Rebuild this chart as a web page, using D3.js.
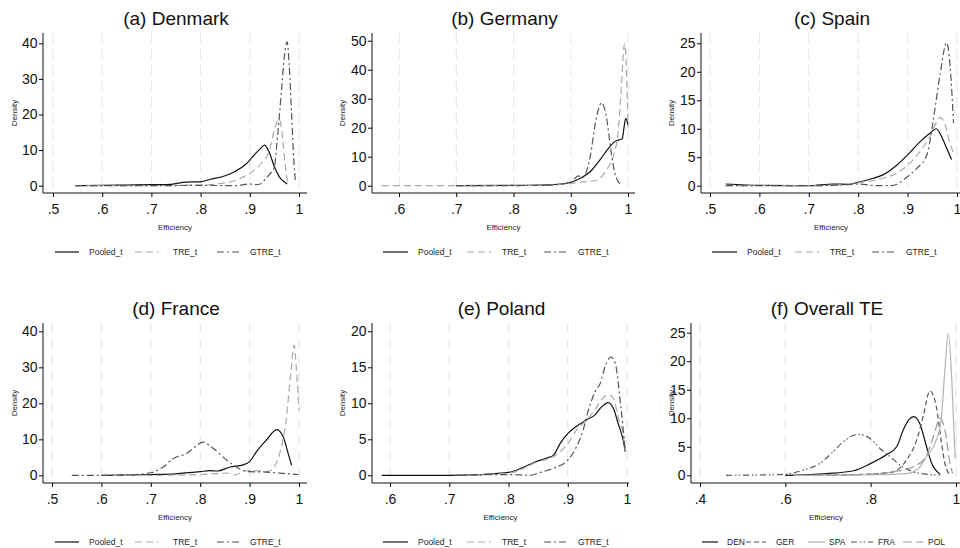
<!DOCTYPE html>
<html>
<head>
<meta charset="utf-8">
<script src="https://cdn.jsdelivr.net/npm/d3@7"></script>
<style>
  body { margin: 0; background: #fff; }
  svg { display: block; font-family: "Liberation Sans", Arial, Helvetica, sans-serif; }
</style>
</head>
<body>
<svg id="chart" width="960" height="548"></svg>
<script>
// kernel density estimates, [efficiency, density]
var denPooled = [[0.545,0],[0.6,0.1],[0.65,0.2],[0.7,0.3],[0.74,0.4],[0.77,1],[0.8,1.1],[0.82,1.8],[0.85,2.8],[0.87,4],[0.89,5.8],[0.9,7.2],[0.91,8.8],[0.92,10.2],[0.93,11.4],[0.94,9.2],[0.95,5.3],[0.96,2.5],[0.97,1.1],[0.976,0.5]];
var denTRE = [[0.545,0],[0.7,0],[0.8,0.2],[0.85,0.8],[0.88,2],[0.9,3.5],[0.92,5.8],[0.94,10],[0.95,15.6],[0.959,18.7],[0.965,15.5],[0.97,8.5],[0.975,2.5],[0.98,0.5]];
var denGTRE = [[0.545,0],[0.7,0],[0.8,0.1],[0.87,0],[0.9,0.5],[0.91,0.3],[0.92,0.4],[0.93,1.6],[0.94,3.2],[0.95,5.2],[0.955,11.8],[0.96,19.4],[0.965,27.8],[0.97,36],[0.976,40.4],[0.98,34],[0.985,20],[0.99,6],[0.993,0.8]];

var gerPooled = [[0.7,0],[0.8,0.1],[0.86,0.3],[0.9,1.2],[0.916,2.5],[0.934,4.8],[0.951,8.9],[0.968,13.4],[0.977,15.2],[0.984,15.8],[0.99,16.2],[0.993,20],[0.996,23.2],[1.0,21]];
var gerTRE = [[0.57,0],[0.7,0],[0.85,0.1],[0.9,0.8],[0.921,1.3],[0.944,1.7],[0.962,5.4],[0.974,10],[0.983,19],[0.988,33],[0.994,49],[0.998,36],[1.0,20]];
var gerGTRE = [[0.7,0],[0.85,0.1],[0.9,1],[0.913,3.4],[0.921,2.8],[0.934,10],[0.944,22.7],[0.954,28.6],[0.962,24],[0.971,11],[0.977,4.3],[0.983,1.4],[0.989,0.3]];

var spaPooled = [[0.532,0.3],[0.6,0.05],[0.7,0],[0.75,0.3],[0.78,0.25],[0.8,0.6],[0.83,1.3],[0.85,1.9],[0.878,3.6],[0.9,5.4],[0.925,7.7],[0.945,9.2],[0.958,10],[0.969,8.6],[0.979,6.6],[0.989,4.6]];
var spaTRE = [[0.532,0],[0.6,0],[0.7,0],[0.78,0.2],[0.8,0.5],[0.85,1.3],[0.878,2.2],[0.9,3.6],[0.925,6],[0.945,8.6],[0.959,11.2],[0.966,12],[0.975,10.9],[0.986,7.4],[0.993,5.7]];
var spaGTRE = [[0.532,0],[0.7,0],[0.78,0.2],[0.8,0.3],[0.837,0],[0.868,0],[0.9,1.6],[0.918,3],[0.939,5.4],[0.949,9.8],[0.955,13.3],[0.966,19.7],[0.979,25.1],[0.986,21],[0.993,11]];

var fraPooled = [[0.6,0],[0.65,0.05],[0.7,0.2],[0.75,0.4],[0.8,1.0],[0.82,1.3],[0.835,1.2],[0.86,2.3],[0.887,2.9],[0.9,3.8],[0.914,6.6],[0.934,9.8],[0.955,12.7],[0.968,10.7],[0.978,6.1],[0.985,2.8]];
var fraTRE = [[0.6,0],[0.7,0],[0.8,0.2],[0.854,0.6],[0.87,0.1],[0.89,1.2],[0.914,1.3],[0.935,1],[0.948,2],[0.961,6.1],[0.974,15.4],[0.984,29.3],[0.99,36.2],[0.995,29],[1.0,18]];
var fraGTRE = [[0.54,0],[0.6,0],[0.65,0.1],[0.7,0.7],[0.726,2.4],[0.746,4.7],[0.773,6.1],[0.786,7.5],[0.806,9.2],[0.826,7.5],[0.854,4.2],[0.881,1.7],[0.9,1.0],[0.934,0.9],[0.961,0.6],[0.999,0.2]];

var polPooled = [[0.586,0],[0.7,0],[0.75,0.1],[0.8,0.4],[0.825,1.1],[0.85,2.0],[0.865,2.4],[0.876,2.8],[0.887,4.4],[0.9,5.8],[0.915,6.8],[0.932,7.7],[0.946,8.4],[0.957,9.5],[0.968,10.1],[0.977,9.3],[0.985,7.2],[0.994,4.7],[0.997,3.3]];
var polTRE = [[0.71,0],[0.8,0.3],[0.85,1.9],[0.876,2.6],[0.9,4.4],[0.915,6.3],[0.932,7.7],[0.946,9.1],[0.957,10.5],[0.968,11.2],[0.977,10.7],[0.985,8.1],[0.994,5.4],[0.997,3.5]];
var polGTRE = [[0.71,0],[0.8,0.1],[0.837,0],[0.85,0.3],[0.876,1.0],[0.9,2.1],[0.915,4.0],[0.926,6.3],[0.935,9.1],[0.946,11.6],[0.955,12.8],[0.963,15.1],[0.973,16.4],[0.98,15.6],[0.989,10],[0.997,3.5]];

var allDEN = [[0.6,0],[0.697,0.3],[0.76,0.8],[0.798,2.0],[0.837,3.6],[0.861,5.0],[0.876,7.9],[0.888,9.6],[0.901,10.3],[0.915,9.1],[0.931,5.0],[0.943,2.1],[0.963,0.2]];
var allGER = [[0.62,0],[0.7,0.05],[0.798,0.2],[0.853,0.6],[0.884,2.7],[0.908,6.2],[0.923,10.3],[0.939,14.8],[0.954,12],[0.965,6.2],[0.974,2.1],[0.986,0]];
var allSPA = [[0.62,0],[0.8,0.1],[0.884,0.3],[0.912,1.2],[0.931,3.3],[0.954,6.2],[0.965,9.6],[0.974,18.5],[0.982,24.9],[0.99,17],[0.998,3]];
var allFRA = [[0.461,0],[0.54,0.05],[0.6,0.2],[0.642,0.9],[0.681,2.1],[0.713,4.2],[0.736,5.9],[0.771,7.2],[0.798,6.5],[0.822,4.7],[0.845,3.3],[0.869,1.8],[0.9,0.6],[0.931,0.2],[0.963,0]];
var allPOL = [[0.7,0],[0.8,0.2],[0.85,0.6],[0.9,1.5],[0.931,3.5],[0.947,6.8],[0.963,10],[0.974,8],[0.986,2.1],[0.992,0.3]];

var modelNames = ["Pooled_t", "TRE_t", "GTRE_t"];
var countryNames = ["DEN", "GER", "SPA", "FRA", "POL"];

var xTicksHalf = [0.5, 0.6, 0.7, 0.8, 0.9, 1];
var xTicksSix = [0.6, 0.7, 0.8, 0.9, 1];
var xTicksAll = [0.4, 0.6, 0.8, 1];
var yTicks40 = [0, 10, 20, 30, 40];
var yTicks50 = [0, 10, 20, 30, 40, 50];
var yTicks25 = [0, 5, 10, 15, 20, 25];
var yTicks20 = [0, 5, 10, 15, 20];

// line styles
var styles = {
  solid:   { color: "#111", dash: null },
  tre:     { color: "#a9a9a9", dash: "7,4" },
  gtre:    { color: "#555", dash: "7,3,2,3" },
  ger:     { color: "#555", dash: "5,3" },
  spa:     { color: "#b4b4b4", dash: null },
  fra:     { color: "#555", dash: "6,3,1.5,2,1.5,3" },
  pol:     { color: "#999", dash: "9,4" }
};

var modelStyles = [styles.solid, styles.tre, styles.gtre];

// panel layout (pixels)
var panels = [
  { title: "(a) Denmark", row: 0, axisX: 43, right: 307, xd: [0.5, 1], xr: [53, 299], yd: [0, 40], yr: [185.7, 43.3],
    xt: xTicksHalf, yt: yTicks40, series: [denPooled, denTRE, denGTRE], sty: modelStyles, names: modelNames,
    leg: [[55, 79, 89], [135, 159, 173], [217, 241, 250]], densX: 14 },
  { title: "(b) Germany", row: 0, axisX: 372, right: 635, xd: [0.6, 1], xr: [399, 628], yd: [0, 50], yr: [185.7, 40.7],
    xt: xTicksSix, yt: yTicks50, series: [gerPooled, gerTRE, gerGTRE], sty: modelStyles, names: modelNames,
    leg: [[383, 408, 418], [467, 491, 502], [544, 568, 578]], densX: 342 },
  { title: "(c) Spain", row: 0, axisX: 701, right: 965, xd: [0.5, 1], xr: [710, 957], yd: [0, 25], yr: [185.7, 43.3],
    xt: xTicksHalf, yt: yTicks25, series: [spaPooled, spaTRE, spaGTRE], sty: modelStyles, names: modelNames,
    leg: [[712, 737, 747], [795, 819, 830], [872, 896, 906]], densX: 671 },
  { title: "(d) France", row: 1, axisX: 43, right: 307, xd: [0.5, 1], xr: [52, 299], yd: [0, 40], yr: [475.3, 331.3],
    xt: xTicksHalf, yt: yTicks40, series: [fraPooled, fraTRE, fraGTRE], sty: modelStyles, names: modelNames,
    leg: [[55, 79, 89], [135, 159, 173], [217, 241, 250]], densX: 14 },
  { title: "(e) Poland", row: 1, axisX: 372, right: 629, xd: [0.6, 1], xr: [390, 627], yd: [0, 20], yr: [475.3, 331.3],
    xt: xTicksSix, yt: yTicks20, series: [polPooled, polTRE, polGTRE], sty: modelStyles, names: modelNames,
    leg: [[383, 408, 418], [467, 491, 502], [544, 568, 578]], densX: 342 },
  { title: "(f) Overall TE", row: 1, axisX: 691, right: 965, xd: [0.4, 1], xr: [700, 956], yd: [0, 25], yr: [475.3, 332.7],
    xt: xTicksAll, yt: yTicks25, series: [allDEN, allGER, allSPA, allFRA, allPOL],
    sty: [styles.solid, styles.ger, styles.spa, styles.fra, styles.pol], names: countryNames,
    leg: [[702, 718, 727], [746, 766, 776], [808, 825, 829], [851, 873, 878], [903, 923, 928]], densX: 671 }
];

var rowShift = [0, 290];

function fmtTick(v) {
  // Stata style: drop the leading zero
  return v === 1 ? "1" : String(v).replace(/^0\./, ".");
}

var svg = d3.select("#chart");

panels.forEach(function (p) {
  var dy = rowShift[p.row];
  var top = 33 + dy;
  var base = 193 + dy;

  var x = d3.scaleLinear().domain(p.xd).range(p.xr);
  var y = d3.scaleLinear().domain(p.yd).range(p.yr);

  var g = svg.append("g");

  // vertical dashed grid lines
  g.selectAll("line.grid")
    .data(p.xt)
    .join("line")
    .attr("class", "grid")
    .attr("x1", function (d) { return x(d); })
    .attr("x2", function (d) { return x(d); })
    .attr("y1", top)
    .attr("y2", base)
    .attr("stroke", "#e8e8e8")
    .attr("stroke-width", 1.2)
    .attr("stroke-dasharray", "10,6");

  // density curves
  var line = d3.line()
    .x(function (d) { return x(d[0]); })
    .y(function (d) { return y(d[1]); })
    .curve(d3.curveMonotoneX);

  p.series.forEach(function (s, i) {
    g.append("path")
      .attr("d", line(s))
      .attr("fill", "none")
      .attr("stroke", p.sty[i].color)
      .attr("stroke-width", 1.2)
      .attr("stroke-dasharray", p.sty[i].dash);
  });

  // axes
  var yAxis = d3.axisLeft(y).tickValues(p.yt).tickSize(4).tickPadding(1.5);
  g.append("g")
    .attr("transform", "translate(" + p.axisX + ",0)")
    .call(yAxis)
    .call(function (a) { a.select(".domain").remove(); })
    .call(function (a) { a.selectAll("text").attr("font-size", 14).attr("fill", "#111").attr("font-family", null); });

  var xAxis = d3.axisBottom(x).tickValues(p.xt).tickSize(4).tickPadding(7).tickFormat(fmtTick);
  g.append("g")
    .attr("transform", "translate(0," + base + ")")
    .call(xAxis)
    .call(function (a) { a.select(".domain").remove(); })
    .call(function (a) { a.selectAll("text").attr("font-size", 14).attr("fill", "#111").attr("font-family", null); });

  g.append("line")
    .attr("x1", p.axisX).attr("x2", p.axisX)
    .attr("y1", top).attr("y2", base)
    .attr("stroke", "#111");
  g.append("line")
    .attr("x1", p.axisX).attr("x2", p.right)
    .attr("y1", base).attr("y2", base)
    .attr("stroke", "#111");

  // titles and axis labels
  var cx = (p.axisX + p.right) / 2;
  if (p.right > 960) cx = (p.axisX + 957) / 2 + 2;
  g.append("text")
    .attr("x", cx + 1)
    .attr("y", 25 + dy)
    .attr("text-anchor", "middle")
    .attr("font-size", 19)
    .attr("fill", "#111")
    .text(p.title);

  g.append("text")
    .attr("x", cx)
    .attr("y", 230 + dy)
    .attr("text-anchor", "middle")
    .attr("font-size", 8)
    .attr("fill", "#222")
    .text("Efficiency");

  g.append("text")
    .attr("transform", "translate(" + (p.densX + 3) + "," + ((top + base) / 2) + ") rotate(-90)")
    .attr("text-anchor", "middle")
    .attr("font-size", 8)
    .attr("fill", "#222")
    .text("Density");

  // legend
  var ly = 252 + dy;
  p.leg.forEach(function (l, i) {
    g.append("line")
      .attr("x1", l[0]).attr("x2", l[1])
      .attr("y1", ly).attr("y2", ly)
      .attr("stroke", p.sty[i].color)
      .attr("stroke-width", 1.2)
      .attr("stroke-dasharray", p.sty[i].dash);
    g.append("text")
      .attr("x", l[2])
      .attr("y", ly + 3)
      .attr("font-size", 8.5)
      .attr("fill", "#222")
      .text(p.names[i]);
  });
});
</script>
</body>
</html>
